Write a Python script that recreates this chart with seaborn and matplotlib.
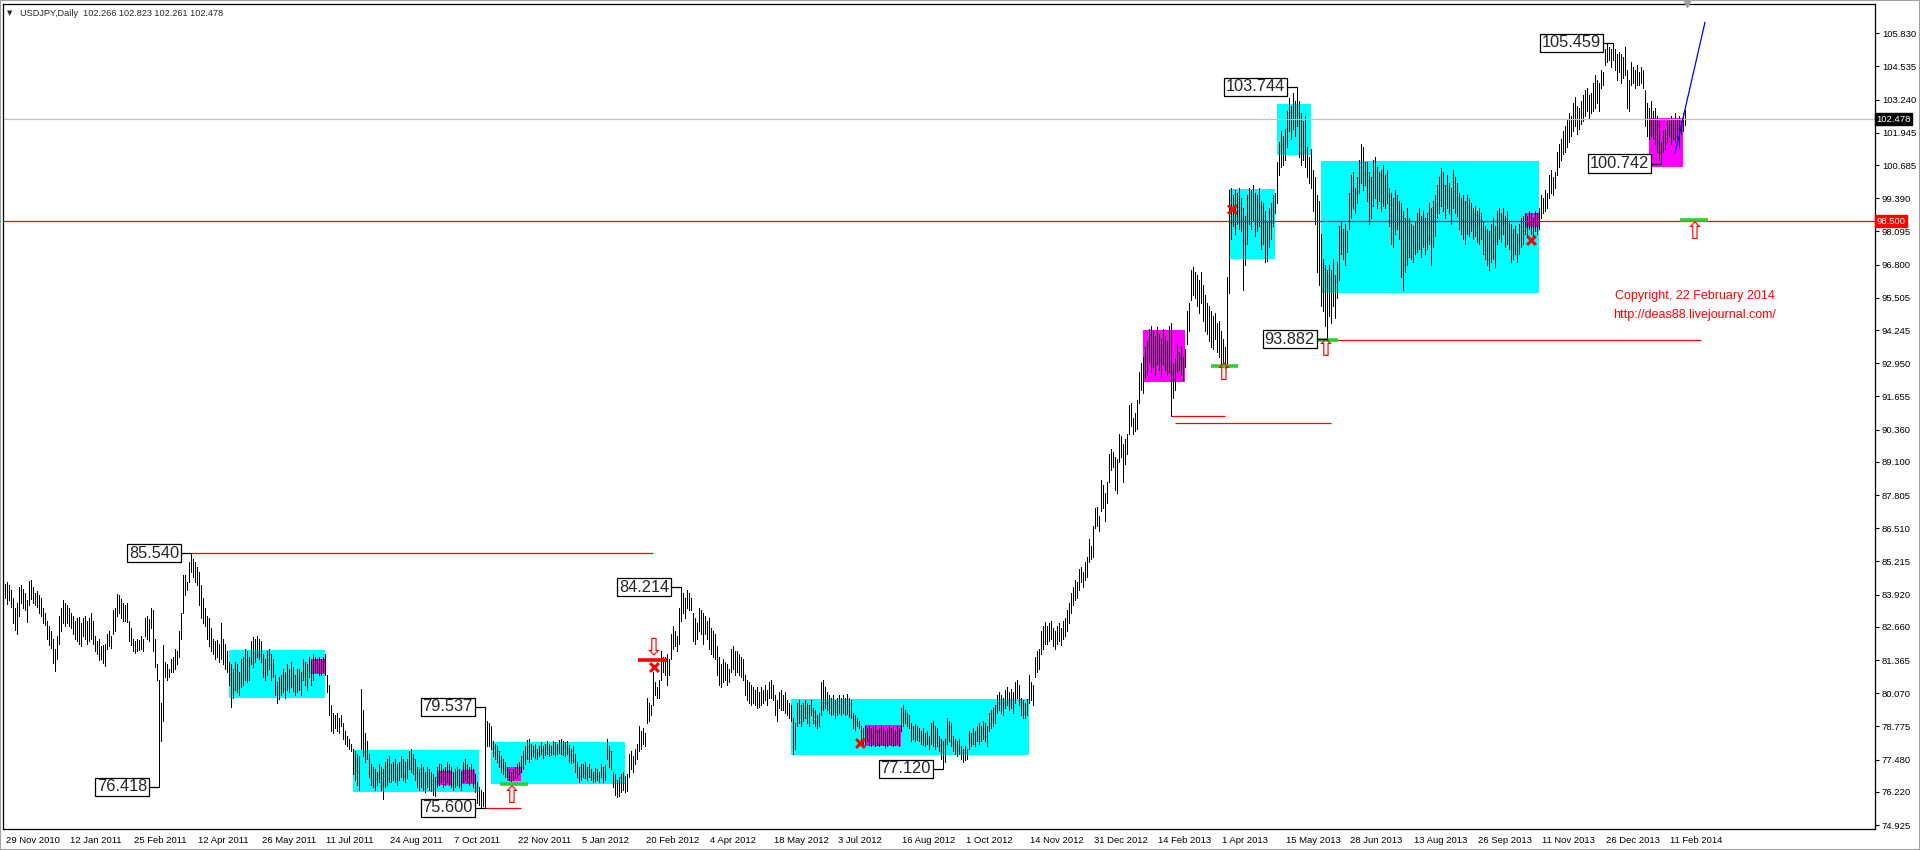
#USDJPY daily chart with trading range boxes
# -*- coding: utf-8 -*-
import numpy as np
import pandas as pd
import matplotlib
matplotlib.use("Agg")
import matplotlib.pyplot as plt
import matplotlib.transforms as mtransforms
import seaborn as sns

#### Daily bars (high / low), one value per trading day starting 29 Nov 2010
highs = [
    84.35, 84.40, 84.30, 84.10, 83.80, 83.40, 83.60, 84.20, 84.30, 84.15,
    84.00, 83.70, 84.45, 84.50, 84.20, 84.00, 84.05, 83.90, 83.80, 83.40,
    83.20, 82.90, 82.70, 82.50, 82.20, 81.80, 82.30, 83.10, 83.40, 83.70,
    83.60, 83.50, 83.40, 83.20, 83.10, 82.90, 83.00, 83.05, 82.80, 83.00,
    83.10, 82.90, 83.00, 83.20, 82.90, 82.30, 82.10, 82.20, 81.90, 81.95,
    82.00, 82.40, 82.50, 82.30, 83.30, 83.40, 83.95, 83.90, 83.75, 83.60,
    83.50, 83.60, 82.90, 82.60, 82.20, 82.10, 82.20, 82.15, 82.30, 82.20,
    83.00, 83.10, 82.95, 83.40, 83.30, 82.20, 81.20, 80.60, 79.70, 81.95,
    81.30, 81.20, 81.00, 81.40, 81.50, 81.80, 81.70, 82.50, 83.20, 84.70,
    84.70, 84.40, 85.20, 85.54, 85.30, 85.20, 85.00, 84.80, 84.30, 83.80,
    83.40, 83.10, 83.00, 82.60, 82.20, 82.10, 82.15, 82.00, 82.80, 82.20,
    82.00, 81.70, 81.30, 81.20, 81.00, 81.30, 81.20, 80.90, 81.40, 81.50,
    81.80, 81.70, 81.50, 82.10, 82.25, 82.20, 82.30, 82.20, 82.10, 81.60,
    81.40, 81.70, 81.80, 81.60, 81.40, 80.80, 80.50, 80.70, 80.80, 81.00,
    80.90, 81.20, 81.00, 81.30, 81.10, 80.80, 81.00, 81.00, 80.90, 81.40,
    81.30, 81.20, 81.50, 81.40, 81.60, 81.50, 81.40, 81.50, 81.40, 81.50,
    81.60, 80.80, 80.40, 79.60, 79.30, 79.20, 79.30, 79.10, 79.20, 78.90,
    78.60, 78.40, 78.30, 78.10, 77.90, 77.80, 77.70, 77.60, 80.25, 79.40,
    78.50, 78.20, 77.70, 77.30, 77.20, 77.10, 77.00, 77.30, 77.20, 77.10,
    77.40, 77.50, 77.60, 77.30, 77.40, 77.50, 77.30, 77.40, 77.60, 77.50,
    77.40, 77.50, 77.80, 77.90, 77.70, 77.50, 77.20, 77.10, 77.30, 77.20,
    77.00, 77.20, 77.10, 77.00, 76.90, 76.80, 77.20, 77.30, 77.30, 77.10,
    77.20, 77.40, 77.30, 77.20, 77.00, 77.10, 77.20, 77.10, 77.00, 77.40,
    77.50, 77.30, 77.20, 77.30, 77.10, 76.90, 76.60, 76.40, 76.30, 76.20,
    79.54, 79.00, 78.90, 78.80, 78.20, 78.10, 78.00, 77.80, 77.60, 77.50,
    77.40, 77.20, 77.10, 77.00, 77.10, 77.20, 77.30, 77.40, 77.60, 77.80,
    78.00, 78.25, 78.30, 78.10, 78.00, 78.10, 77.90, 78.00, 78.15, 78.00,
    78.10, 78.20, 78.10, 78.00, 78.20, 78.15, 78.10, 78.25, 78.30, 78.20,
    78.15, 78.20, 78.05, 77.90, 78.00, 77.70, 77.40, 77.20, 77.30, 77.30,
    77.40, 77.20, 77.30, 77.10, 77.00, 77.15, 77.10, 77.00, 77.30, 77.20,
    77.25, 78.30, 78.00, 77.80, 77.00, 76.90, 76.70, 76.80, 76.90, 77.00,
    76.85, 76.90, 77.70, 77.80, 77.60, 77.90, 78.10, 78.80, 78.60, 78.70,
    78.50, 79.90, 79.70, 79.60, 80.90, 80.50, 80.30, 80.60, 81.70, 81.50,
    81.50, 81.60, 81.40, 82.40, 82.70, 82.50, 82.30, 83.40, 84.21, 84.00,
    83.80, 84.10, 84.00, 83.80, 83.20, 83.00, 82.80, 83.40, 83.30, 83.20,
    83.10, 82.90, 83.00, 82.60, 82.50, 82.40, 81.90, 81.50, 81.20, 81.40,
    81.30, 81.20, 81.00, 81.80, 81.90, 81.70, 81.70, 81.60, 81.50, 81.40,
    80.80, 80.60, 80.50, 80.40, 80.30, 80.20, 80.30, 80.10, 80.30, 80.20,
    80.40, 80.20, 80.50, 80.60, 80.40, 80.00, 79.80, 80.10, 80.20, 80.00,
    80.10, 79.80, 79.70, 79.60, 79.10, 78.90, 79.70, 79.80, 79.60, 79.70,
    79.80, 79.70, 79.60, 79.80, 79.50, 79.40, 79.20, 79.30, 80.50, 80.60,
    80.30, 80.10, 80.00, 79.90, 80.00, 79.80, 79.90, 80.00, 79.90, 80.00,
    79.90, 80.05, 79.90, 79.80, 79.30, 79.20, 79.10, 79.00, 78.80, 78.70,
    78.80, 78.70, 78.80, 78.70, 78.75, 78.80, 78.65, 78.70, 78.80, 78.75,
    78.60, 78.70, 78.80, 78.70, 78.75, 78.65, 78.80, 78.70, 79.50, 79.60,
    79.40, 79.30, 79.20, 78.90, 78.80, 78.85, 78.80, 78.70, 78.60, 78.70,
    78.50, 78.60, 78.40, 78.90, 79.00, 78.80, 78.70, 78.40, 78.30, 78.20,
    78.30, 79.10, 79.00, 78.90, 78.40, 78.30, 78.20, 78.30, 78.00, 77.90,
    78.00, 77.90, 78.60, 78.50, 78.70, 78.60, 78.80, 78.90, 78.80, 79.00,
    78.90, 78.80, 79.30, 79.40, 79.50, 79.60, 80.00, 80.10, 80.00, 79.90,
    80.20, 80.30, 80.10, 80.25, 80.10, 80.50, 80.60, 80.40, 79.90, 79.80,
    79.70, 79.85, 80.80, 80.50, 80.40, 81.50, 81.70, 81.80, 82.50, 82.70,
    82.85, 82.70, 82.80, 82.90, 82.60, 82.50, 82.70, 82.80, 82.60, 82.90,
    83.00, 83.30, 83.60, 84.00, 84.20, 84.50, 84.40, 84.90, 85.00, 84.80,
    85.20, 85.40, 86.10, 85.80, 86.60, 87.30, 87.35, 87.00, 88.40, 88.20,
    87.90, 88.30, 89.40, 89.60, 89.50, 89.30, 89.20, 90.20, 90.10, 89.80,
    90.00, 90.20, 91.30, 91.40, 90.80, 91.00, 91.50, 92.60, 92.95, 93.20,
    93.60, 93.80, 94.30, 94.40, 94.20, 94.00, 94.35, 94.10, 93.90, 94.30,
    94.00, 93.80, 94.40, 94.50, 92.90, 93.10, 93.70, 93.40, 93.60, 93.20,
    93.50, 95.00, 95.30, 96.60, 96.70, 96.50, 96.40, 96.20, 96.50, 96.00,
    95.60, 95.30, 95.20, 95.00, 94.80, 94.90, 94.50, 94.60, 94.20, 93.90,
    93.60, 96.30, 99.70, 99.80, 99.50, 99.70, 99.60, 99.80, 99.40, 99.00,
    98.70, 99.50, 99.80, 99.70, 99.90, 99.60, 99.50, 99.80, 99.30, 99.20,
    98.90, 98.50, 99.00, 99.20, 99.50, 99.60, 100.80, 101.60, 102.00, 101.80,
    102.10, 102.80, 103.30, 103.00, 103.50, 103.20, 103.74, 103.20, 102.70, 102.40,
    102.60, 101.40, 101.00, 101.30, 100.50, 100.20, 99.50, 99.30, 98.00, 97.00,
    96.80, 96.60, 96.80, 96.60, 97.00, 96.40, 96.90, 98.30, 98.50, 98.20,
    98.40, 98.10, 99.60, 100.30, 100.40, 99.80, 100.20, 100.90, 101.50, 101.40,
    100.80, 100.80, 100.40, 100.20, 100.90, 101.00, 100.60, 100.40, 100.50, 100.70,
    100.30, 100.50, 99.80, 99.60, 99.40, 99.70, 99.50, 99.30, 99.20, 98.90,
    98.60, 99.00, 98.60, 98.40, 98.30, 98.50, 98.80, 99.00, 98.70, 98.90,
    98.60, 98.80, 99.20, 99.00, 99.30, 99.50, 99.90, 100.20, 100.55, 100.40,
    99.90, 100.30, 100.00, 99.80, 100.50, 100.20, 100.00, 99.60, 99.40, 99.50,
    99.30, 99.50, 99.40, 99.20, 99.00, 99.10, 98.90, 99.00, 98.80, 98.50,
    98.30, 98.20, 98.10, 98.40, 98.60, 98.30, 98.90, 99.00, 98.80, 99.00,
    98.70, 98.90, 98.50, 98.40, 98.20, 98.30, 98.00, 98.40, 98.60, 98.70,
    98.80, 98.70, 98.90, 98.80, 98.60, 98.90, 98.80, 99.00, 99.50, 99.40,
    99.70, 99.60, 100.30, 100.50, 100.20, 100.40, 101.20, 101.50, 101.70, 102.00,
    102.20, 102.50, 102.70, 102.60, 103.10, 103.35, 103.00, 102.90, 103.20, 103.40,
    103.60, 103.70, 103.40, 103.50, 103.90, 104.20, 104.00, 103.90, 104.40, 104.30,
    105.20, 105.40, 105.30, 105.20, 105.46, 105.20, 105.00, 105.10, 105.00, 104.90,
    105.30, 104.40, 104.00, 104.70, 104.50, 104.40, 104.60, 104.30, 104.50, 104.40,
    103.60, 103.10, 102.90, 103.20, 102.80, 102.90, 102.60, 102.40, 101.60, 102.00,
    102.10, 102.40, 102.50, 102.60, 102.45, 102.70, 102.50, 102.60, 102.40, 102.70,
    102.82,
]
lows = [
    83.80, 83.55, 83.70, 83.45, 82.80, 82.55, 82.40, 83.10, 83.60, 83.40,
    83.30, 82.85, 83.50, 83.75, 83.60, 83.50, 83.45, 83.20, 83.10, 82.80,
    82.75, 82.20, 81.95, 81.85, 81.25, 80.95, 81.40, 82.00, 82.50, 82.80,
    82.70, 82.80, 82.70, 82.60, 82.40, 82.20, 82.10, 82.00, 81.90, 82.30,
    82.20, 82.00, 82.10, 82.20, 82.00, 81.70, 81.60, 81.35, 81.40, 81.25,
    81.15, 81.80, 81.90, 81.85, 82.40, 82.50, 83.10, 83.20, 83.00, 82.90,
    82.90, 82.85, 82.10, 81.95, 81.70, 81.65, 81.70, 81.75, 81.80, 81.70,
    82.30, 82.20, 82.10, 82.60, 81.70, 81.10, 80.60, 76.42, 78.20, 79.00,
    80.70, 80.60, 80.70, 80.90, 80.90, 81.00, 81.20, 81.50, 82.20, 83.20,
    83.90, 84.10, 84.40, 84.80, 84.60, 84.40, 84.30, 83.50, 83.00, 82.80,
    82.70, 82.20, 81.90, 81.70, 81.60, 81.40, 81.50, 81.30, 81.40, 81.20,
    81.00, 80.90, 80.40, 79.55, 79.90, 80.20, 80.10, 80.00, 80.30, 80.40,
    80.60, 80.50, 80.60, 81.20, 81.10, 81.30, 81.50, 81.40, 81.30, 80.70,
    80.60, 80.80, 81.00, 80.60, 80.70, 80.00, 79.70, 79.85, 80.00, 80.10,
    79.90, 80.20, 80.10, 80.30, 80.15, 80.00, 80.10, 80.20, 80.00, 80.60,
    80.40, 80.20, 80.70, 80.40, 80.60, 80.90, 80.90, 80.80, 80.80, 80.90,
    80.80, 80.10, 79.20, 78.60, 78.50, 78.70, 78.60, 78.50, 78.80, 78.30,
    78.10, 78.00, 77.90, 77.80, 76.90, 76.70, 76.50, 76.30, 77.90, 77.60,
    77.40, 77.50, 76.80, 76.50, 76.40, 76.30, 76.50, 76.60, 76.30, 75.95,
    76.40, 76.50, 76.60, 76.60, 76.70, 76.60, 76.50, 76.70, 76.80, 76.70,
    76.60, 76.75, 77.10, 77.00, 76.90, 76.70, 76.40, 76.30, 76.40, 76.30,
    76.20, 76.40, 76.30, 76.25, 76.10, 76.05, 76.40, 76.50, 76.60, 76.40,
    76.50, 76.60, 76.50, 76.40, 76.30, 76.40, 76.50, 76.40, 76.30, 76.60,
    76.70, 76.60, 76.50, 76.60, 76.40, 76.20, 75.80, 75.70, 75.60, 75.65,
    75.60, 78.00, 78.00, 77.90, 77.60, 77.50, 77.40, 77.20, 77.00, 76.90,
    76.80, 76.80, 76.70, 76.65, 76.70, 76.75, 76.80, 76.90, 77.00, 77.10,
    77.30, 77.50, 77.40, 77.50, 77.60, 77.55, 77.50, 77.60, 77.70, 77.55,
    77.65, 77.70, 77.60, 77.65, 77.70, 77.60, 77.70, 77.75, 77.70, 77.65,
    77.60, 77.70, 77.40, 77.35, 77.40, 77.00, 76.80, 76.60, 76.70, 76.80,
    76.75, 76.70, 76.80, 76.70, 76.60, 76.65, 76.70, 76.60, 76.80, 76.60,
    76.70, 77.50, 77.20, 77.10, 76.40, 76.10, 76.00, 76.05, 76.20, 76.30,
    76.20, 76.25, 76.80, 77.10, 77.00, 77.30, 77.50, 77.80, 77.90, 78.10,
    78.00, 78.90, 79.00, 79.20, 79.60, 80.00, 79.90, 79.90, 80.60, 80.90,
    80.80, 80.40, 80.80, 81.40, 81.80, 81.90, 81.70, 82.00, 82.90, 83.20,
    83.00, 83.40, 83.30, 83.30, 82.10, 82.00, 82.20, 82.50, 82.40, 82.00,
    82.40, 82.20, 81.80, 81.60, 81.50, 81.40, 80.80, 80.40, 80.30, 80.50,
    80.60, 80.40, 80.50, 80.90, 81.00, 80.80, 80.90, 80.80, 80.70, 80.60,
    80.00, 79.80, 79.70, 79.60, 79.70, 79.60, 79.50, 79.55, 79.60, 79.70,
    79.80, 79.60, 79.90, 79.90, 79.80, 79.20, 79.00, 79.50, 79.40, 79.40,
    79.30, 79.20, 79.10, 79.00, 77.70, 77.90, 78.80, 78.90, 78.80, 79.00,
    79.10, 78.90, 78.80, 79.20, 78.90, 78.80, 78.70, 78.80, 79.20, 79.40,
    79.50, 79.40, 79.30, 79.20, 79.25, 79.10, 79.20, 79.30, 79.20, 79.30,
    79.20, 79.25, 79.15, 79.10, 78.70, 78.65, 78.80, 78.70, 78.20, 78.10,
    78.10, 78.20, 78.05, 78.00, 78.10, 78.00, 78.05, 78.00, 78.10, 78.05,
    77.95, 78.00, 78.10, 78.05, 78.00, 78.05, 78.10, 78.00, 78.60, 78.80,
    78.90, 78.80, 78.70, 78.20, 78.30, 78.20, 78.25, 78.20, 78.10, 78.05,
    78.00, 78.10, 77.90, 78.10, 78.00, 77.90, 78.00, 77.80, 77.50, 77.12,
    77.40, 78.10, 78.20, 78.00, 77.80, 77.70, 77.60, 77.70, 77.50, 77.40,
    77.45, 77.50, 77.90, 78.00, 78.10, 78.00, 78.20, 78.10, 78.20, 78.30,
    78.20, 78.00, 78.60, 78.70, 78.80, 78.90, 79.30, 79.40, 79.30, 79.20,
    79.50, 79.60, 79.40, 79.50, 79.30, 79.70, 79.90, 79.60, 79.20, 79.10,
    79.10, 79.20, 79.70, 79.80, 79.60, 80.70, 80.90, 81.00, 81.60, 81.80,
    82.00, 82.00, 82.10, 82.20, 81.90, 81.80, 82.00, 82.10, 81.95, 82.20,
    82.30, 82.50, 82.80, 83.20, 83.50, 83.70, 83.80, 84.10, 84.40, 84.20,
    84.50, 84.60, 85.20, 85.30, 85.40, 86.50, 86.60, 86.40, 87.20, 87.30,
    86.80, 87.50, 88.30, 88.80, 88.90, 88.00, 87.90, 89.10, 89.30, 88.30,
    89.00, 89.40, 90.20, 90.50, 90.20, 90.30, 90.40, 91.40, 91.90, 91.80,
    92.40, 92.50, 93.00, 92.60, 92.80, 92.50, 92.90, 92.70, 92.40, 92.90,
    92.70, 92.50, 92.60, 90.90, 91.60, 91.90, 92.60, 92.70, 92.50, 92.30,
    92.80, 93.70, 94.20, 95.40, 95.60, 95.50, 95.20, 94.90, 95.30, 94.60,
    94.20, 94.10, 93.80, 93.60, 93.50, 93.90, 93.40, 93.20, 92.90, 92.80,
    92.75, 92.90, 95.70, 97.80, 98.30, 98.00, 98.40, 98.20, 98.10, 95.80,
    96.80, 97.60, 98.40, 98.20, 98.50, 97.90, 98.10, 98.30, 97.40, 97.60,
    96.90, 96.95, 97.50, 97.80, 98.30, 98.80, 99.20, 100.30, 100.60, 100.70,
    100.90, 101.40, 102.00, 101.70, 102.10, 101.80, 102.20, 101.00, 100.70, 100.90,
    100.60, 100.20, 100.00, 99.80, 98.90, 98.40, 96.50, 96.00, 95.20, 95.00,
    94.40, 93.88, 94.80, 94.50, 95.20, 94.70, 95.50, 96.20, 97.20, 97.00,
    96.80, 97.30, 98.20, 98.60, 99.00, 98.80, 99.20, 99.60, 100.00, 99.70,
    99.90, 99.30, 98.40, 98.60, 99.10, 99.40, 99.00, 99.30, 98.90, 99.10,
    99.00, 99.20, 98.30, 97.60, 97.50, 98.00, 98.20, 97.80, 96.30, 95.80,
    96.50, 96.80, 97.10, 97.00, 96.90, 97.20, 97.30, 97.40, 97.10, 97.50,
    97.20, 97.40, 97.60, 96.80, 97.50, 97.90, 98.60, 98.80, 99.10, 98.90,
    98.60, 99.00, 98.80, 98.40, 99.00, 98.80, 98.70, 98.20, 98.00, 97.80,
    97.60, 98.00, 97.90, 98.10, 97.80, 97.90, 97.70, 97.60, 97.80, 97.20,
    97.00, 96.80, 96.60, 96.90, 97.00, 96.70, 97.60, 97.80, 97.70, 98.00,
    97.50, 97.60, 97.40, 96.90, 97.00, 97.20, 96.90, 97.20, 97.50, 97.60,
    98.00, 97.90, 98.20, 98.00, 97.70, 98.10, 98.00, 98.20, 98.60, 98.80,
    98.90, 99.00, 99.40, 99.60, 99.50, 99.80, 100.30, 100.60, 100.90, 101.10,
    101.20, 101.40, 101.60, 101.80, 102.00, 102.20, 101.90, 102.10, 102.30, 102.40,
    102.60, 102.80, 102.50, 102.70, 102.80, 102.90, 103.10, 102.80, 103.70, 103.80,
    104.60, 104.70, 104.80, 104.50, 104.80, 104.40, 104.00, 104.30, 103.90, 104.10,
    104.20, 102.90, 102.80, 103.80, 103.90, 103.70, 103.80, 103.80, 103.90, 103.70,
    102.20, 101.80, 101.70, 101.80, 101.75, 101.50, 101.20, 100.90, 100.74, 101.20,
    101.30, 101.60, 101.80, 101.50, 101.70, 101.60, 101.70, 101.40, 101.90, 102.00,
    102.26,
]

#### Axis labels
date_labels = ["29 Nov 2010", "12 Jan 2011", "25 Feb 2011", "12 Apr 2011", "26 May 2011",
               "11 Jul 2011", "24 Aug 2011", "7 Oct 2011", "22 Nov 2011", "5 Jan 2012",
               "20 Feb 2012", "4 Apr 2012", "18 May 2012", "3 Jul 2012", "16 Aug 2012",
               "1 Oct 2012", "14 Nov 2012", "31 Dec 2012", "14 Feb 2013", "1 Apr 2013",
               "15 May 2013", "28 Jun 2013", "13 Aug 2013", "26 Sep 2013", "11 Nov 2013",
               "26 Dec 2013", "11 Feb 2014"]
price_ticks = [105.830, 104.535, 103.240, 101.945, 100.685, 99.390, 98.095, 96.800,
               95.505, 94.245, 92.950, 91.655, 90.360, 89.100, 87.805, 86.510, 85.215,
               83.920, 82.660, 81.365, 80.070, 78.775, 77.480, 76.220, 74.925]

#### Range boxes (bar from, bar to, low, high)
cyan_from = [112.25, 174.25, 243.25, 393.25, 612.25, 636.25, 658.25]
cyan_to = [160.25, 237.25, 310.25, 512.25, 635.25, 653.25, 767.25]
cyan_low = [79.87, 76.22, 76.52, 77.65, 97.02, 101.07, 95.70]
cyan_high = [81.77, 77.87, 78.18, 79.86, 99.75, 103.06, 100.84]

magenta_from = [153.25, 216.25, 228.25, 251.25, 430.25, 569.25, 760.25, 822.25]
magenta_to = [160.25, 223.25, 235.25, 258.25, 448.25, 590.25, 767.25, 839.25]
magenta_low = [80.83, 76.48, 76.52, 76.63, 78.01, 92.23, 98.26, 100.62]
magenta_high = [81.42, 77.05, 77.09, 77.20, 78.82, 94.25, 98.80, 102.54]

#### Swing labels
swing_bar = [93, 77, 240, 240, 338, 469, 646, 661, 804, 828]
swing_price = [85.540, 76.418, 79.537, 75.600, 84.214, 77.120, 103.744, 93.882, 105.459, 100.742]

#### Level lines
red_from = [93, 240, 583, 585, 661]
red_to = [324, 258, 610, 663, 848]
red_level = [85.54, 75.60, 90.89, 90.61, 93.86]

green_from = [247.75, 603.25, 653.25, 837.75]
green_to = [261.75, 616.75, 666.75, 851.75]
green_level = [76.53, 92.85, 93.86, 98.54]

up_arrow_bar = [253.75, 609.75, 660.75, 845.25]
up_arrow_price = [76.04, 92.56, 93.52, 98.07]
down_arrow_bar = [324.75]
down_arrow_price = [81.87]

cross_bar = [324.75, 427.75, 613.75, 763.25]
cross_price = [81.11, 78.13, 98.96, 97.75]

support_level = 98.500
last_price = 102.478
projection_bar = [835.25, 850.25]
projection_price = [101.15, 106.26]

bars = pd.DataFrame({"bar": np.arange(len(highs)), "high": highs, "low": lows})

##############################Begin Plotting##################################
sns.set_style("white")
plt.rcParams['font.family'] = ['Liberation Sans', 'DejaVu Sans']

W, H = 1920, 850
fig = plt.figure(figsize=(W / 100, H / 100), dpi=100)
ax = fig.add_axes([3 / W, 21 / H, 1872 / W, 825 / H])
ax.set_xlim(-0.75, 935.25)
ax.set_ylim(74.77, 106.97)

# boxes
ax.bar(cyan_from, np.subtract(cyan_high, cyan_low), width=np.subtract(cyan_to, cyan_from),
       bottom=cyan_low, align='edge', color='#00ffff', linewidth=0, zorder=1)
ax.bar(magenta_from, np.subtract(magenta_high, magenta_low), width=np.subtract(magenta_to, magenta_from),
       bottom=magenta_low, align='edge', color='#ff00ff', linewidth=0, zorder=1.5)

# daily bars, single pixel wide
ax.vlines(bars["bar"], bars["low"], bars["high"], color='black', linewidth=0.55,
          antialiased=False, zorder=2)

# horizontal levels
ax.axhline(last_price, color='#c0c0c0', linewidth=0.9, zorder=2.5)
ax.axhline(support_level, color='red', linewidth=0.9, zorder=3)
ax.hlines(red_level, red_from, red_to, color='red', linewidth=0.9, zorder=3)
ax.hlines(green_level, green_from, green_to, color='#33cc33', linewidth=2.6, zorder=3.5)
ax.hlines([81.37], [316.75], [331.25], color='red', linewidth=2.6, zorder=3.5)

# projection
sns.lineplot(x=projection_bar, y=projection_price, color='blue', linewidth=0.9, ax=ax, zorder=4)

# markers
sns.scatterplot(x=cross_bar, y=cross_price, marker='x', color='red', s=40, linewidth=2.2, ax=ax, zorder=5)
for b, p in zip(up_arrow_bar, up_arrow_price):
    ax.text(b, p, "\u21e7", color='red', fontsize=17, ha='center', va='center',
            family='DejaVu Sans', zorder=5)
for b, p in zip(down_arrow_bar, down_arrow_price):
    ax.text(b, p, "\u21e9", color='red', fontsize=17, ha='center', va='center',
            family='DejaVu Sans', zorder=5)

# swing labels with connectors
for b, p in zip(swing_bar, swing_price):
    ax.plot([b - 5, b], [p, p], color='black', linewidth=0.9, zorder=5)
    ax.text(b - 5.8, p, f"{p:.3f}", ha='right', va='center', fontsize=11.8, zorder=6,
            bbox=dict(boxstyle='square,pad=0.1', fc='white', ec='black', lw=0.9))

# copyright
ax.text(845.25, 95.57, "Copyright, 22 February 2014", color='red', fontsize=9,
        ha='center', va='center', zorder=6)
ax.text(845.25, 94.82, "http://deas88.livejournal.com/", color='red', fontsize=9,
        ha='center', va='center', zorder=6)

# axes styling
for s in ax.spines.values():
    s.set_color('black')
    s.set_linewidth(0.9)
ax.yaxis.tick_right()
ax.set_yticks(price_ticks)
ax.set_yticklabels([f"{v:.3f}" for v in price_ticks])
bar_ticks = [32 * k for k in range(len(date_labels))]
ax.set_xticks(bar_ticks)
ax.set_xticklabels(date_labels, ha='left')
ax.tick_params(axis='both', direction='out', length=3, width=0.8, pad=2,
               labelsize=6.8, colors='black')
shift = mtransforms.ScaledTranslation(2 / 100, 0, fig.dpi_scale_trans)
for lab in ax.get_xticklabels():
    lab.set_transform(lab.get_transform() + shift)
ax.set_xlabel("")
ax.set_ylabel("")

# price tags on the right scale
ytr = ax.get_yaxis_transform()
ax.text(1.0008, last_price, f"{last_price:.3f}", transform=ytr, ha='left', va='center',
        color='white', fontsize=6.8, zorder=7, clip_on=False,
        bbox=dict(boxstyle='square,pad=0.15', fc='black', ec='black'))
ax.text(1.0008, support_level, f"{support_level:.3f}", transform=ytr, ha='left', va='center',
        color='white', fontsize=6.8, zorder=7, clip_on=False,
        bbox=dict(boxstyle='square,pad=0.15', fc='red', ec='red'))

# chart header
fig.text(10 / W, 1 - 13 / H, "\u25bc", fontsize=5, family='DejaVu Sans', ha='center', va='center')
fig.text(20 / W, 1 - 13 / H, "USDJPY,Daily  102.266 102.823 102.261 102.478", fontsize=6.6,
         ha='left', va='center')
ax.plot([841.25], [1.0], transform=ax.get_xaxis_transform(), marker='v', color='#a0a0a0',
        markersize=5, clip_on=False, zorder=7)

fig.add_artist(plt.Rectangle((0, 0), 1, 1, transform=fig.transFigure, fill=False,
                             ec='#a0a0a0', lw=1.5))

fig.savefig("out.png", dpi=100)
